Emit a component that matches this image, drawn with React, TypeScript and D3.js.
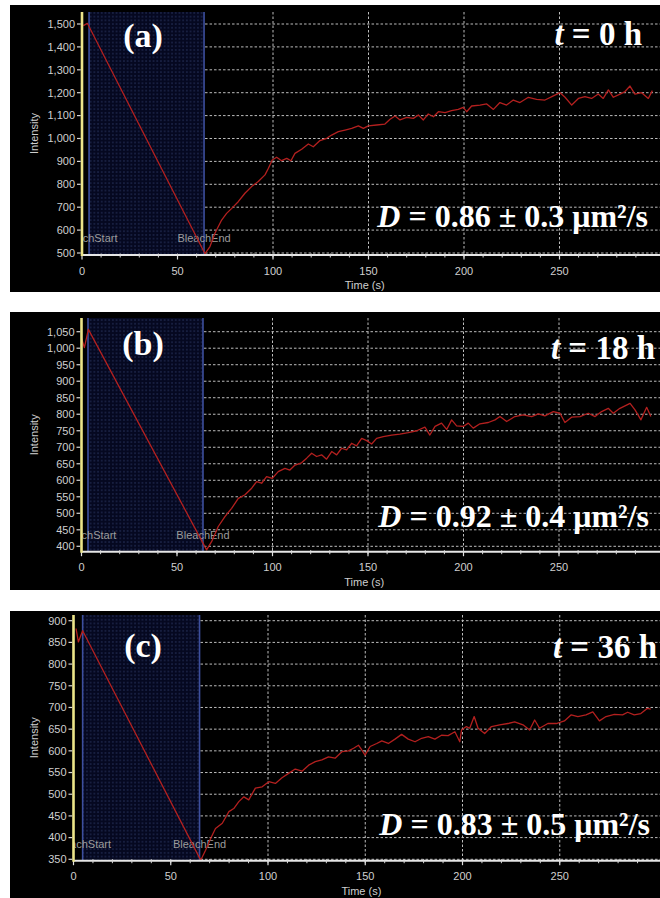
import React from "react";
import * as d3 from "d3";

// FRAP recovery traces: [time (s), intensity]
const traceA: [number, number][] = [
  [0.7, 1493], [2.8, 1503], [64.4, 497], [67, 528], [69.6, 586], [73.1, 644], [75.7, 673],
  [78.4, 695], [81.8, 724], [85.3, 761], [88.8, 790], [92.3, 812], [95.8, 841], [97.6, 870],
  [99.6, 906], [101.9, 918], [104.5, 903], [107.2, 913], [109.4, 903], [111.5, 935], [115, 953],
  [118.5, 976], [121.1, 964], [124.6, 991], [128.1, 1001], [130.7, 1015], [134.2, 1030],
  [137.7, 1037], [141.2, 1044], [144.7, 1055], [147.3, 1044], [149.9, 1055], [154.3, 1059],
  [158.6, 1063], [161.3, 1084], [163.9, 1098], [166.5, 1081], [170, 1092], [173.5, 1088],
  [176.1, 1103], [178.7, 1081], [181.3, 1107], [184, 1095], [186.6, 1117], [190.1, 1113],
  [193.5, 1122], [197, 1127], [199.6, 1136], [201.4, 1117], [204, 1142], [208.4, 1146],
  [211.9, 1151], [215.4, 1127], [218.8, 1157], [222.3, 1146], [225.8, 1168], [229.3, 1157],
  [233.7, 1180], [238, 1171], [242.4, 1168], [246.8, 1186], [250.3, 1200], [252.9, 1180],
  [256.4, 1146], [259.9, 1175], [263.3, 1183], [266.8, 1175], [270.3, 1194], [272.9, 1175],
  [275.6, 1212], [278.2, 1180], [281.7, 1194], [284.3, 1205], [286.9, 1229], [289.5, 1194],
  [293, 1200], [296.5, 1175], [298.6, 1209],
];

const traceB: [number, number][] = [
  [0, 1030], [1.5, 1002], [3.6, 1057], [65.5, 389], [68.1, 414], [71.6, 460], [75.1, 490],
  [78.6, 515], [82.1, 545], [85.6, 556], [89.1, 576], [91.7, 596], [94.3, 591], [96.9, 611],
  [99.9, 606], [103, 626], [106.5, 636], [109.1, 631], [111.8, 646], [115.2, 653], [117.9, 667],
  [120.5, 682], [123.1, 672], [125.7, 677], [128.3, 664], [131, 687], [133.6, 677], [136.2, 697],
  [138.8, 692], [141.4, 712], [144, 704], [146.7, 727], [149.3, 720], [151.9, 710], [154.5, 727],
  [158, 732], [162.4, 737], [166.7, 740], [171.1, 744], [175.5, 750], [179.8, 761], [182.4, 737],
  [185.1, 763], [188.5, 773], [191.2, 754], [193.8, 783], [196.4, 765], [199.9, 763], [202.5, 773],
  [205.1, 758], [208.6, 771], [213, 775], [216.5, 783], [219.1, 793], [222.6, 778], [226.9, 793],
  [231.3, 798], [235.7, 793], [239.2, 801], [242.6, 795], [247, 808], [250.5, 803], [253.1, 775],
  [256.6, 791], [261, 793], [265.3, 803], [268.9, 793], [272.3, 808], [275.8, 818], [278.4, 803],
  [281.9, 818], [287.2, 833], [289.8, 813], [292.9, 783], [295.9, 821], [298.1, 793],
];

const traceC: [number, number][] = [
  [1.3, 882], [2.5, 851], [4.7, 877], [65.4, 348], [67.9, 371], [70.5, 398], [73, 421],
  [76.5, 433], [79.9, 460], [82.4, 467], [85, 483], [87.6, 494], [90.1, 487], [93.5, 514],
  [97, 517], [100.4, 529], [103.8, 525], [107.2, 538], [110.6, 548], [114, 558], [117.5, 553],
  [120.9, 567], [124.3, 575], [127.7, 579], [131.1, 586], [134.5, 583], [138, 598], [141.4, 600],
  [144, 606], [146.5, 613], [148.2, 602], [149.9, 590], [152.5, 610], [155.9, 617], [158.5, 623],
  [161.9, 617], [165.3, 627], [168.7, 638], [172.1, 627], [175.6, 621], [179, 629], [182.4, 633],
  [185.8, 627], [189.2, 636], [192.6, 635], [196.1, 644], [198.6, 621], [199.5, 648], [202, 656],
  [203.7, 652], [206, 679], [208, 652], [211.4, 640], [214.9, 656], [219.1, 660], [223.4, 663],
  [226.8, 667], [231.1, 660], [234.5, 648], [237.1, 671], [239.6, 652], [243.9, 663], [248.2, 663],
  [252.4, 669], [255.9, 683], [259.3, 679], [263.5, 683], [267, 690], [270.4, 669], [273.8, 679],
  [278.1, 684], [282.3, 683], [284.9, 689], [288.3, 683], [291.7, 686], [295.1, 698], [296.8, 696],
];

const panelTags = ["(a)", "(b)", "(c)"];
const hourLabels = ["0", "18", "36"];
const diffusion = ["0.86", "0.92", "0.83"];
const diffusionErr = ["0.3", "0.4", "0.5"];
const bleachStart = [3.7, 3.4, 4.7];
const bleachEnd = [63.9, 63.6, 64.8];

const yTicksA = [500, 600, 700, 800, 900, 1000, 1100, 1200, 1300, 1400, 1500];
const yTicksB = [400, 450, 500, 550, 600, 650, 700, 750, 800, 850, 900, 950, 1000, 1050];
const yTicksC = [350, 400, 450, 500, 550, 600, 650, 700, 750, 800, 850, 900];
const xTicks = [0, 50, 100, 150, 200, 250];
const xGrid = [100, 150, 200, 250];
const xMinor = d3.range(10, 300, 10);

const W = 660;
const H = 898;
const LEFT = 10;

// where each panel sits in the figure
const layouts = [
  { top: 5, bottom: 292, axisX: 82, pps: 1.91, yDomain: [500, 1500], yRange: [253, 24], axisTop: 12, axisBottom: 255, tagY: 47, hourX: 642, hourY: 45, dX: 648, dY: 227 },
  { top: 312, bottom: 590, axisX: 81.5, pps: 1.91, yDomain: [400, 1050], yRange: [546.3, 331.7], axisTop: 318, axisBottom: 551.7, tagY: 355, hourX: 655, hourY: 359, dX: 649, dY: 527 },
  { top: 611, bottom: 898, axisX: 73.5, pps: 1.945, yDomain: [350, 900], yRange: [859.3, 620.7], axisTop: 615, axisBottom: 860.7, tagY: 657, hourX: 657, hourY: 658, dX: 650, dY: 835 },
];

const traces = [traceA, traceB, traceC];
const yTickSets = [yTicksA, yTicksB, yTicksC];

const SANS = "'Liberation Sans', Arial, sans-serif";
const SERIF = "'Liberation Serif', 'Times New Roman', serif";
const fmt = d3.format(",");

function Panel({ i }: { i: number }) {
  const lay = layouts[i];
  const x = d3.scaleLinear().domain([0, 300]).range([lay.axisX, lay.axisX + 300 * lay.pps]);
  const y = d3.scaleLinear().domain(lay.yDomain).range(lay.yRange);
  const line = d3.line<[number, number]>().x((d) => x(d[0])).y((d) => y(d[1]));
  const bx0 = x(bleachStart[i]);
  const bx1 = x(bleachEnd[i]);
  const clipId = `plot-clip-${i}`;
  const patId = `bleach-dots-${i}`;
  const midY = (lay.axisTop + lay.axisBottom) / 2;

  return (
    <g>
      <defs>
        <clipPath id={clipId}>
          <rect x={lay.axisX} y={lay.top} width={W - lay.axisX} height={lay.bottom - lay.top} />
        </clipPath>
        <pattern id={patId} width={3.7} height={3.7} patternUnits="userSpaceOnUse">
          <rect width={3.7} height={3.7} fill="#050820" />
          <rect x={1.2} y={1.2} width={1.3} height={1.3} fill="#29335f" />
        </pattern>
      </defs>
      <rect x={LEFT} y={lay.top} width={W - LEFT} height={lay.bottom - lay.top} fill="#000" />

      {/* bleach window */}
      <rect x={bx0} y={lay.axisTop} width={bx1 - bx0} height={lay.axisBottom - lay.axisTop} fill={`url(#${patId})`} />
      <line x1={bx0} x2={bx0} y1={lay.axisTop} y2={lay.axisBottom} stroke="#3d4f9e" strokeWidth={1.6} />
      <line x1={bx1} x2={bx1} y1={lay.axisTop} y2={lay.axisBottom} stroke="#3d4f9e" strokeWidth={1.6} />

      {/* dotted grid */}
      {yTickSets[i].map((v) => (
        <line key={`h${v}`} x1={bx1 + 1} x2={W} y1={y(v)} y2={y(v)} stroke="#bdbdbd" strokeWidth={1} strokeDasharray="2.5,2" />
      ))}
      {xGrid.map((t) => (
        <line key={`v${t}`} x1={x(t)} x2={x(t)} y1={lay.axisTop} y2={lay.axisBottom} stroke="#bdbdbd" strokeWidth={1} strokeDasharray="2.5,2" />
      ))}

      <g clipPath={`url(#${clipId})`}>
        <text x={bx0} y={lay.axisBottom - 13} textAnchor="middle" fontFamily={SANS} fontSize={11} fill="#9c9c9c">BleachStart</text>
        <text x={bx1} y={lay.axisBottom - 13} textAnchor="middle" fontFamily={SANS} fontSize={11} fill="#9c9c9c">BleachEnd</text>
        <path d={line(traces[i]) || ""} fill="none" stroke="#b3201f" strokeWidth={1.3} strokeLinejoin="round" />
      </g>

      {/* axes */}
      <line x1={lay.axisX} x2={W} y1={lay.axisBottom} y2={lay.axisBottom} stroke="#e6e6e6" strokeWidth={2} />
      {xMinor.map((t) => (
        <line key={`m${t}`} x1={x(t)} x2={x(t)} y1={lay.axisBottom - 1.5} y2={lay.axisBottom + 2.5} stroke="#d8d8d8" strokeWidth={1} />
      ))}
      {xTicks.map((t) => (
        <g key={`xt${t}`}>
          <line x1={x(t)} x2={x(t)} y1={lay.axisBottom} y2={lay.axisBottom + 4.5} stroke="#e0e0e0" strokeWidth={1.2} />
          <text x={x(t)} y={lay.axisBottom + 19.5} textAnchor="middle" fontFamily={SANS} fontSize={11} fill="#cfcfcf">{t}</text>
        </g>
      ))}
      <line x1={lay.axisX} x2={lay.axisX} y1={lay.axisTop} y2={lay.axisBottom + 1} stroke="#ece489" strokeWidth={2.6} />
      {yTickSets[i].map((v) => (
        <g key={`yt${v}`}>
          <line x1={lay.axisX - 5} x2={lay.axisX - 1.3} y1={y(v)} y2={y(v)} stroke="#d6d6d6" strokeWidth={1.2} />
          <text x={lay.axisX - 7} y={y(v)} dy="0.35em" textAnchor="end" fontFamily={SANS} fontSize={11} fill="#cfcfcf">{fmt(v)}</text>
        </g>
      ))}
      <text transform={`translate(38,${midY}) rotate(-90)`} textAnchor="middle" fontFamily={SANS} fontSize={11} fill="#cfcfcf">Intensity</text>
      <text x={x(148)} y={lay.axisBottom + 34} textAnchor="middle" fontFamily={SANS} fontSize={11} fill="#cfcfcf">Time (s)</text>

      {/* annotations */}
      <text x={143} y={lay.tagY} textAnchor="middle" fontFamily={SERIF} fontWeight="bold" fontSize={34} fill="#fff">{panelTags[i]}</text>
      <text x={lay.hourX} y={lay.hourY} textAnchor="end" fontFamily={SERIF} fontWeight="bold" fontSize={33} fill="#fff">
        <tspan fontStyle="italic">t</tspan> = {hourLabels[i]} h
      </text>
      <text x={lay.dX} y={lay.dY} textAnchor="end" fontFamily={SERIF} fontWeight="bold" fontSize={32} fill="#fff">
        <tspan fontStyle="italic">D</tspan> = {diffusion[i]} ± {diffusionErr[i]} μm²/s
      </text>
    </g>
  );
}

export default function App() {
  return (
    <svg width={W} height={H} style={{ position: "absolute", left: 0, top: 0, background: "#fff" }}>
      {layouts.map((_, i) => (
        <Panel key={i} i={i} />
      ))}
    </svg>
  );
}
